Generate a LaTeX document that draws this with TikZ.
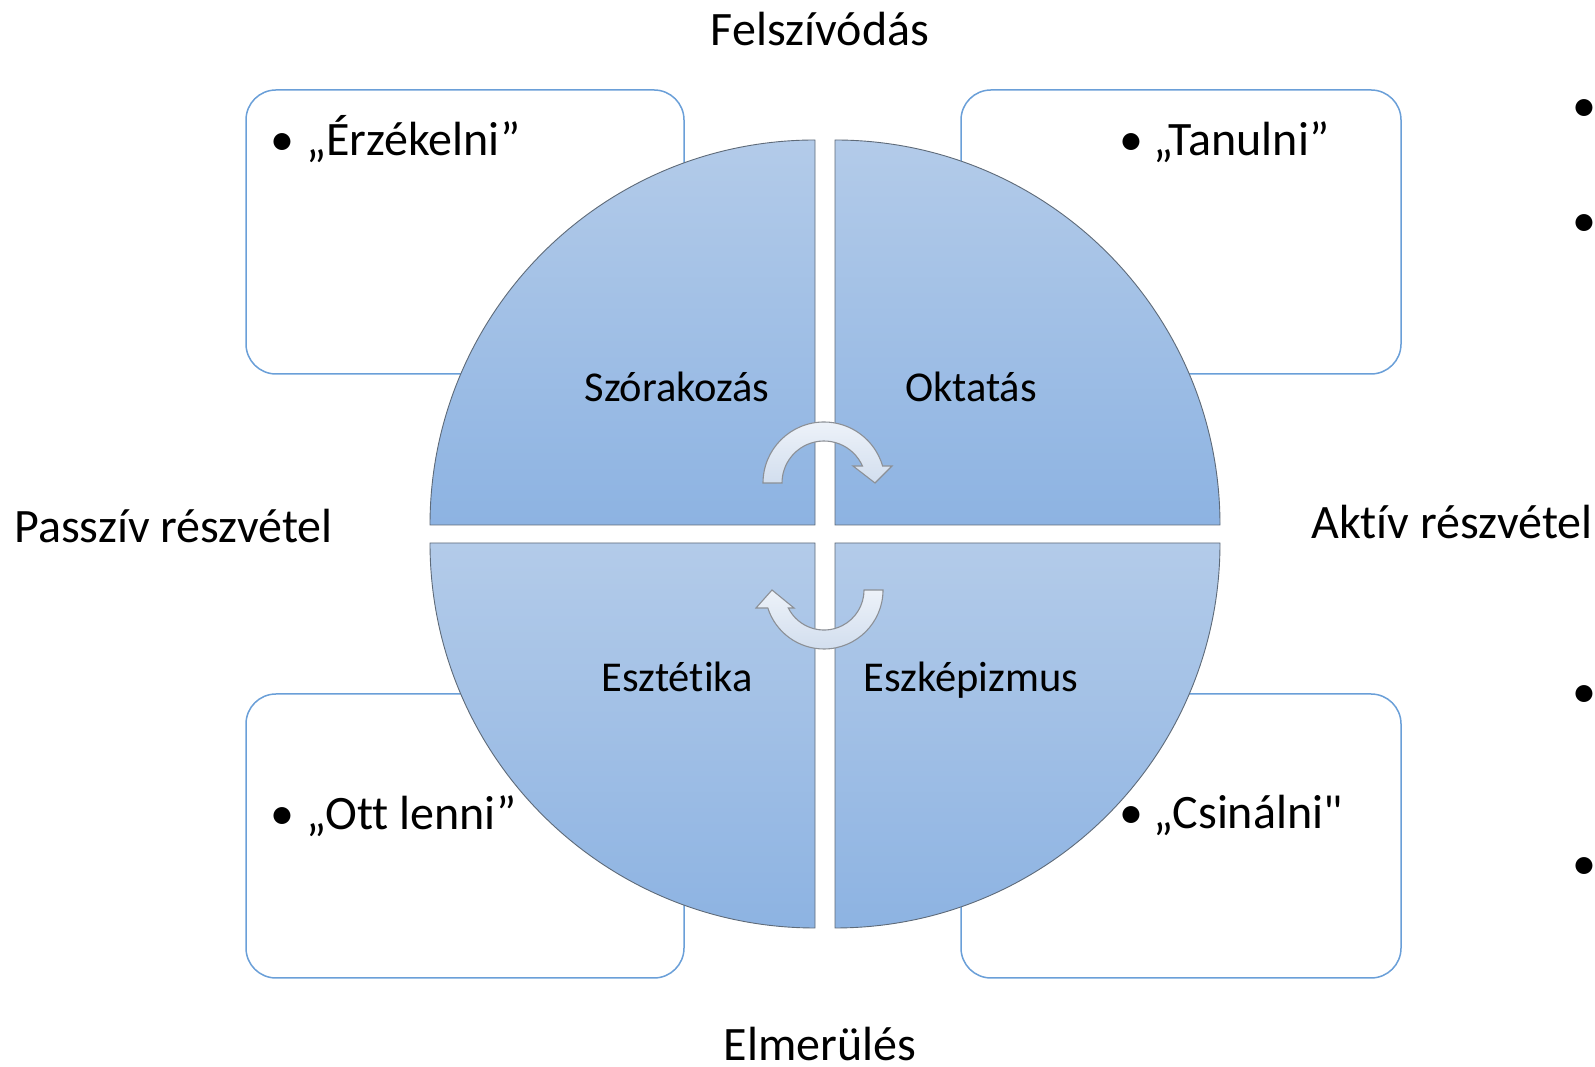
\documentclass[tikz,border=0pt]{standalone}
\usepackage{fontspec}
\setmainfont{Carlito}[Ligatures={TeXOff,CommonOff}]
\definecolor{qtop}{HTML}{B3CBE9}
\definecolor{qbot}{HTML}{8DB3E2}
\definecolor{qline}{HTML}{5E6A78}
\definecolor{boxline}{HTML}{6A9FD8}
\definecolor{arrtop}{HTML}{EDF2F9}
\definecolor{arrbot}{HTML}{D2DEEE}
\definecolor{arrline}{HTML}{8C9096}
\begin{document}
\begin{tikzpicture}[x=1pt,y=1pt,
  box/.style={draw=boxline, line width=1.5pt, fill=white, rounded corners=30pt},
  quad/.style={draw=qline, line width=0.9pt, top color=qtop, bottom color=qbot},
  cyc/.style={draw=arrline, line width=1.1pt, top color=arrtop, bottom color=arrbot, line join=miter},
  lab/.style={font=\fontsize{48}{57}\selectfont, inner sep=0pt},
  qlab/.style={font=\fontsize{42.5}{50}\selectfont, inner sep=0pt}]
\useasboundingbox (0,0) rectangle (1595,1067);
% boxes
\draw[box] (246,693) rectangle (684,977);
\draw[box] (961,693) rectangle (1401,977);
\draw[box] (246,89) rectangle (684,373);
\draw[box] (961,89) rectangle (1401,373);
% quadrants
\path[quad] (815,542) -- (430,542) arc[start angle=180, end angle=90, radius=385] -- cycle;
\path[quad] (835,542) -- (835,927) arc[start angle=90, end angle=0, radius=385] -- cycle;
\path[quad] (815,524) -- (815,139) arc[start angle=270, end angle=180, radius=385] -- cycle;
\path[quad] (835,524) -- (1220,524) arc[start angle=0, end angle=-90, radius=385] -- cycle;
% cycle arrows
\path[cyc] (763,584) arc[start angle=180, end angle=16.2, radius=61] -- (892,601) -- (875,584) -- (853,601) -- (862.4,601) arc[start angle=23.9, end angle=180, radius=42] -- cycle;
\path[cyc] (883,477) arc[start angle=0, end angle=-162.2, radius=59] -- (756,459) -- (772,477) -- (794,459) -- (788.3,459) arc[start angle=-153.3, end angle=0, radius=40] -- cycle;
% outer labels
\node[lab, anchor=base] (felsz) at (820,1021) {Felszívódás};
\node[lab, anchor=base] (elmer) at (820,6) {Elmerülés};
\node[lab, anchor=base west] (passziv) at (14,524) {Passzív részvétel};
\node[lab, anchor=base west] (aktiv) at (1311,528) {Aktív részvétel};
% quadrant labels
\node[qlab, anchor=base] (szor) at (677,665) {Szórakozás};
\node[qlab, anchor=base] (okt) at (971,665) {Oktatás};
\node[qlab, anchor=base] (eszt) at (677,375) {Esztétika};
\node[qlab, anchor=base] (eszk) at (971,375) {Eszképizmus};
% box texts
\node[lab, anchor=base] (b1) at (282,911) {•};
\node[lab, anchor=base west] (t1) at (306,911) {„Érzékelni”};
\node[lab, anchor=base] (b2) at (1131,911) {•};
\node[lab, anchor=base west] (t2) at (1153,911) {„Tanulni”};
\node[lab, anchor=base] (b3) at (282,237) {•};
\node[lab, anchor=base west] (t3) at (306,237) {„Ott lenni”};
\node[lab, anchor=base] (b4) at (1131,238) {•};
\node[lab, anchor=base west] (t4) at (1153,238) {„Csinálni"};
% cut-off bullets at right edge
\node[lab, anchor=base] (r1) at (1584,945) {•};
\node[lab, anchor=base] (r2) at (1584,830) {•};
\node[lab, anchor=base] (r3) at (1584,359) {•};
\node[lab, anchor=base] (r4) at (1584,187) {•};
\end{tikzpicture}
\end{document}
